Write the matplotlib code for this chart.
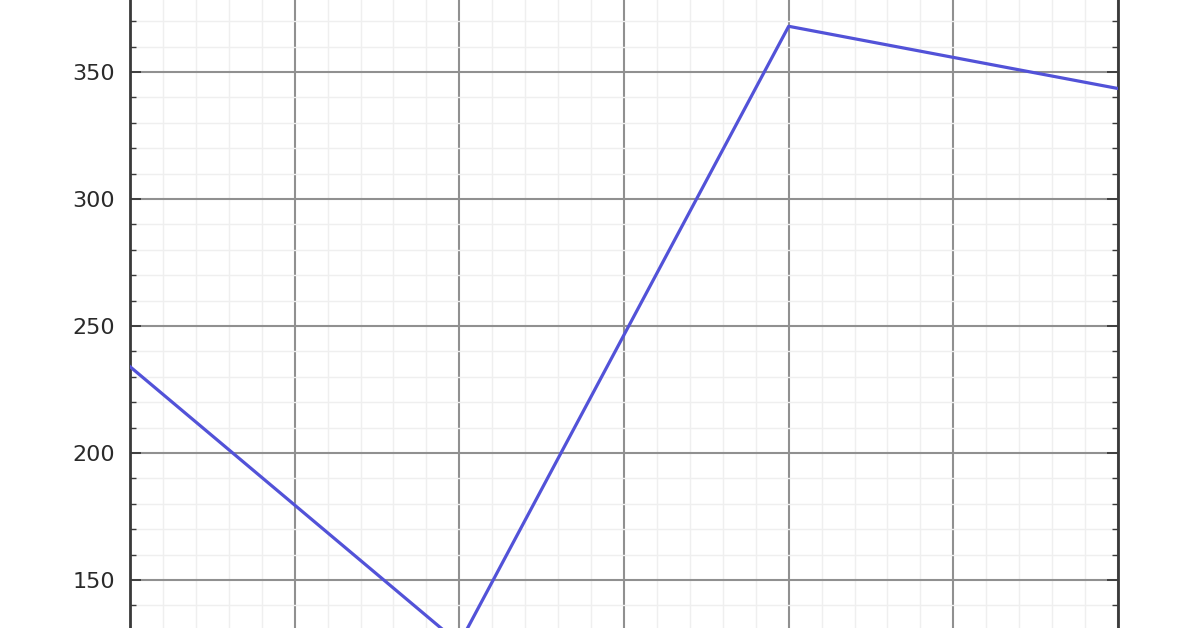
import matplotlib
matplotlib.use('Agg')
import matplotlib.pyplot as plt
from matplotlib.ticker import MultipleLocator

# datos
x_vals = [0, 2, 4, 6]
y_vals = [234, 125, 368, 343.5]

fig = plt.figure(figsize=(11.96, 6.28), dpi=100)
ax = fig.add_axes([130 / 1196, 0, 988 / 1196, 1])

ax.plot(x_vals, y_vals, color='#5252d8', linewidth=2.3, zorder=3)

ax.set_xlim(0, 6)
ax.set_ylim(131.1, 378.35)

ax.xaxis.set_major_locator(MultipleLocator(1))
ax.xaxis.set_minor_locator(MultipleLocator(0.2))
ax.yaxis.set_major_locator(MultipleLocator(50))
ax.yaxis.set_minor_locator(MultipleLocator(10))

ax.grid(which='major', color='#909090', linewidth=1.5)
ax.grid(which='minor', color='#efefef', linewidth=1.0)
ax.set_axisbelow(True)

for s in ['top', 'bottom']:
    ax.spines[s].set_visible(False)
for s in ['left', 'right']:
    ax.spines[s].set_color('#3a3a3a')
    ax.spines[s].set_linewidth(2)

ax.tick_params(axis='x', which='both', bottom=False, top=False, labelbottom=False)
ax.tick_params(axis='y', which='both', direction='in', left=True, right=True,
               colors='#3a3a3a', labelcolor='#2a2a2a')
ax.tick_params(axis='y', which='major', length=8, width=1.3, labelsize=16, pad=11)
ax.tick_params(axis='y', which='minor', length=4, width=1)

fig.savefig('out.png', dpi=100)
